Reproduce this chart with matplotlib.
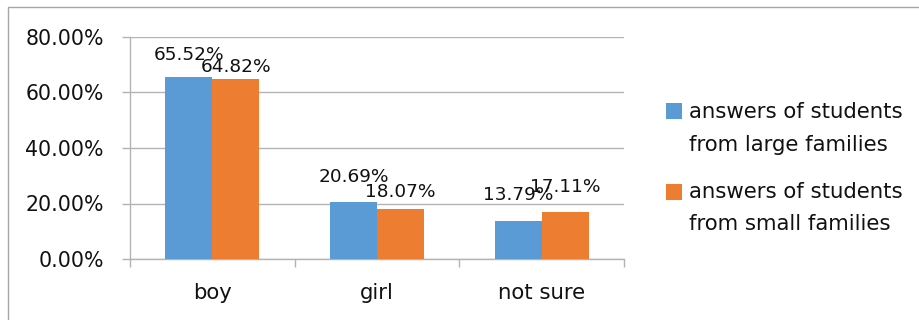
import matplotlib
matplotlib.use("Agg")
import matplotlib.pyplot as plt
from matplotlib.patches import Rectangle
import numpy as np

categories = ["boy", "girl", "not sure"]
large_families = [65.52, 20.69, 13.79]
small_families = [64.82, 18.07, 17.11]
series_names = ["answers of students\nfrom large families",
                "answers of students\nfrom small families"]
y_ticks = [0, 20, 40, 60, 80]

colors = ["#5B9BD5", "#ED7D31"]
grid_color = "#B3B3B3"
text_color = "#111111"
plt.rcParams["font.family"] = ["DejaVu Sans"]

W, H = 920, 320
fig = plt.figure(figsize=(W / 100, H / 100), dpi=100)

# chart frame (runs off the right and bottom edges)
fig.add_artist(Rectangle((8 / W, -0.2), 1.2, 1.2 - 7 / H, transform=fig.transFigure,
                         fill=False, edgecolor="#A6A6A6", linewidth=1.0))

ax = fig.add_axes([130 / W, 1 - 259 / H, (624 - 130) / W, (259 - 37) / H])

x = np.arange(len(categories))
bw = 0.285
bars_a = ax.bar(x - bw / 2, large_families, bw, color=colors[0], zorder=3)
bars_b = ax.bar(x + bw / 2, small_families, bw, color=colors[1], zorder=3)

ax.set_xlim(-0.5, len(categories) - 0.5)
ax.set_ylim(0, 80)
ax.set_yticks(y_ticks)
ax.set_yticklabels([f"{v:.2f}%" for v in y_ticks])
ax.yaxis.grid(True, color=grid_color, linewidth=1.0, zorder=0)
ax.set_axisbelow(True)

for s in ["top", "right"]:
    ax.spines[s].set_visible(False)
for s in ["left", "bottom"]:
    ax.spines[s].set_color(grid_color)
    ax.spines[s].set_linewidth(1.0)

ax.tick_params(axis="y", length=5.8, width=1.0, color=grid_color, pad=13,
               labelsize=14.8, labelcolor=text_color)
ax.set_xticks(x)
ax.set_xticklabels(categories)
ax.tick_params(axis="x", which="major", length=0, pad=17,
               labelsize=15.3, labelcolor=text_color)
ax.set_xticks(np.arange(len(categories) + 1) - 0.5, minor=True)
ax.tick_params(axis="x", which="minor", length=5.8, width=1.0, color=grid_color)

# value labels (pixel offsets above each bar's top)
offs_a = [17, 19.5, 21]
offs_b = [7, 12, 19.5]
for bars, vals, offs in [(bars_a, large_families, offs_a), (bars_b, small_families, offs_b)]:
    for b, v, o in zip(bars, vals, offs):
        ax.annotate(f"{v:.2f}%", (b.get_x() + b.get_width() / 2, v),
                    xytext=(0, o * 0.72), textcoords="offset points",
                    ha="center", va="baseline", fontsize=13.3, color=text_color,
                    zorder=4)

# legend
sq_tops = [103, 184]
line1 = [118, 198]
line2 = [151, 230]
for i, name in enumerate(series_names):
    fig.add_artist(Rectangle((666 / W, 1 - (sq_tops[i] + 16) / H), 16 / W, 16 / H,
                             transform=fig.transFigure, facecolor=colors[i],
                             edgecolor="none"))
    first, second = name.split("\n")
    fig.text(689 / W, 1 - line1[i] / H, first, ha="left", va="baseline",
             fontsize=15.3, color=text_color)
    fig.text(689 / W, 1 - line2[i] / H, second, ha="left", va="baseline",
             fontsize=15.3, color=text_color)

fig.savefig("out.png", dpi=100)
